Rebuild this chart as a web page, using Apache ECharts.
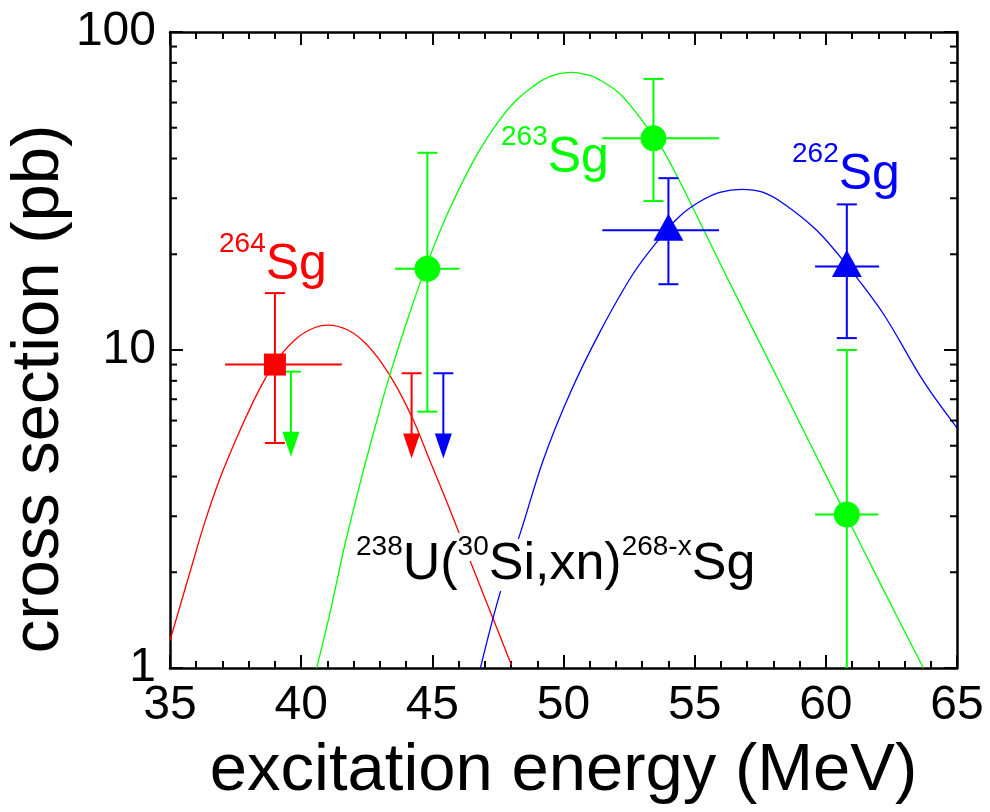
<!DOCTYPE html>
<html>
<head>
<meta charset="utf-8">
<script src="https://cdn.jsdelivr.net/npm/echarts@6.0.0/dist/echarts.min.js"></script>
<style>
html, body { margin: 0; padding: 0; background: #fff; }
#chart { width: 990px; height: 812px; }
</style>
</head>
<body>
<div id="chart"></div>
<script>
var FONT = '"Liberation Sans", Arial, sans-serif';
var RED = '#ff0000', GREEN = '#00ff00', BLUE = '#0000ff';

var xMin = 35, xMax = 65, yMin = 1, yMax = 100;
var yMinorTicks = [2, 3, 4, 5, 6, 7, 8, 9, 20, 30, 40, 50, 60, 70, 80, 90];

// fitted excitation functions [E, sigma]
var redCurve = [[35.0, 1.22], [35.76, 2.0], [36.33, 2.88], [36.91, 3.96], [37.54, 5.29],
    [38.11, 6.71], [38.62, 8.1], [39.13, 9.44], [39.89, 10.99], [40.53, 11.77], [41.04, 11.98],
    [41.74, 11.6], [42.37, 10.66], [43.0, 9.28], [43.64, 7.66], [44.28, 6.01], [44.91, 4.48],
    [45.55, 3.33], [46.18, 2.46], [46.94, 1.71], [48.02, 1.02]];
var greenCurve = [[40.59, 1.0], [41.1, 1.49], [41.67, 2.45], [42.32, 4.02], [42.85, 5.85],
    [43.38, 8.35], [44.14, 13.1], [44.91, 19.7], [45.67, 27.9], [46.69, 41.0], [47.58, 53.1],
    [48.21, 61.1], [48.85, 67.5], [49.49, 72.5], [50.31, 74.7], [51.0, 73.0], [51.39, 70.6],
    [52.03, 65.2], [52.54, 58.9], [53.17, 50.4], [53.81, 42.3], [54.44, 33.8], [54.95, 27.8],
    [56.22, 17.0], [58.25, 7.87], [59.52, 4.85], [60.8, 2.99], [62.26, 1.72], [63.72, 1.0]];
var blueCurve = [[46.82, 0.99], [47.58, 1.72], [48.35, 2.65], [49.23, 4.51], [50.25, 7.31],
    [51.39, 11.4], [52.66, 17.4], [53.68, 22.5], [54.44, 26.4], [55.2, 29.3], [55.96, 31.3],
    [56.79, 32.0], [57.56, 31.4], [58.38, 28.9], [59.65, 23.8], [60.8, 18.5], [62.19, 13.0],
    [63.72, 7.98], [65.0, 5.69]];

// measured points [E, sigma, Elow, Ehigh, sigmaLow, sigmaHigh]
var sg264 = [[39.0, 9.0, 37.1, 41.55, 5.1, 15.1]];
var sg263 = [[44.81, 18.0, 43.58, 46.04, 6.4, 41.7],
    [53.43, 46.3, 51.48, 55.93, 29.4, 71.2],
    [60.8, 3.04, 59.59, 62.0, 0.8, 10.0]];
var sg262 = [[54.0, 23.8, 51.48, 55.93, 16.1, 34.7],
    [60.8, 18.3, 59.59, 62.03, 10.9, 28.7]];

// upper limits [E, limit, arrow tip]
var sg264Limits = [[44.21, 8.45, 4.56]];
var sg263Limits = [[39.61, 8.55, 4.62]];
var sg262Limits = [[45.42, 8.45, 4.56]];

function errorBars(params, api) {
    var x = api.value(0), y = api.value(1);
    var c = api.coord([x, y]);
    var l = api.coord([api.value(2), y]);
    var r = api.coord([api.value(3), y]);
    var lo = api.coord([x, api.value(4)]);
    var hi = api.coord([x, api.value(5)]);
    var st = { stroke: api.visual('color'), lineWidth: 2 };
    return {
        type: 'group',
        children: [
            { type: 'line', shape: { x1: l[0], y1: c[1], x2: r[0], y2: c[1] }, style: st },
            { type: 'line', shape: { x1: c[0], y1: hi[1], x2: c[0], y2: lo[1] }, style: st },
            { type: 'line', shape: { x1: c[0] - 10, y1: hi[1], x2: c[0] + 10, y2: hi[1] }, style: st },
            { type: 'line', shape: { x1: c[0] - 10, y1: lo[1], x2: c[0] + 10, y2: lo[1] }, style: st }
        ]
    };
}

function limitArrow(params, api) {
    var top = api.coord([api.value(0), api.value(1)]);
    var tip = api.coord([api.value(0), api.value(2)]);
    var color = api.visual('color');
    var st = { stroke: color, lineWidth: 2 };
    return {
        type: 'group',
        children: [
            { type: 'line', shape: { x1: top[0] - 10, y1: top[1], x2: top[0] + 10, y2: top[1] }, style: st },
            { type: 'line', shape: { x1: top[0], y1: top[1], x2: tip[0], y2: tip[1] - 24 }, style: st },
            { type: 'polygon', shape: { points: [[tip[0] - 8.5, tip[1] - 25], [tip[0] + 8.5, tip[1] - 25], [tip[0], tip[1]]] },
              style: { fill: color } }
        ]
    };
}

function logMinorTicks(params, api) {
    var cs = params.coordSys;
    var y = api.coord([api.value(0), api.value(1)])[1];
    var st = { stroke: '#000', lineWidth: 2 };
    return {
        type: 'group',
        children: [
            { type: 'line', shape: { x1: cs.x, y1: y, x2: cs.x + 7, y2: y }, style: st },
            { type: 'line', shape: { x1: cs.x + cs.width, y1: y, x2: cs.x + cs.width - 7, y2: y }, style: st }
        ]
    };
}

function curve(data, color) {
    return {
        type: 'line', data: data, smooth: 0.35, showSymbol: false, z: 1,
        lineStyle: { color: color, width: 1.3 }, itemStyle: { color: color }
    };
}

function bars(data, color) {
    return { type: 'custom', data: data, renderItem: errorBars, clip: true, z: 2, itemStyle: { color: color } };
}

function limits(data, color) {
    return { type: 'custom', data: data, renderItem: limitArrow, z: 2, itemStyle: { color: color } };
}

function points(data, color, symbol, size, offset) {
    return {
        type: 'scatter', data: data.map(function (d) { return [d[0], d[1]]; }),
        symbol: symbol, symbolSize: size, symbolOffset: offset || [0, 0], z: 3,
        itemStyle: { color: color, opacity: 1 }
    };
}

function isoLabel(x, y, sup, main, color, mainSize, lineH, bg) {
    var mainStyle = { fontSize: mainSize, fontFamily: FONT, fill: color, lineHeight: lineH };
    var supStyle = { fontSize: 28, fontFamily: FONT, fill: color, lineHeight: 10, verticalAlign: 'top' };
    if (bg) {
        mainStyle.backgroundColor = '#fff';
        supStyle.backgroundColor = '#fff';
    }
    var text = '';
    for (var i = 0; i < sup.length; i++) {
        text += '{s|' + sup[i] + '}{m|' + main[i] + '}';
    }
    return {
        type: 'text', x: x, y: y, z: 10,
        style: {
            text: text, fill: color, align: 'left', verticalAlign: 'middle',
            textAlign: 'left', textVerticalAlign: 'middle',
            rich: { s: supStyle, m: mainStyle }
        }
    };
}

function frameAxis(pos, show) {
    return {
        type: 'value', min: xMin, max: xMax, interval: 5, position: pos,
        axisLine: { onZero: false, lineStyle: { color: '#000', width: 2.5 } },
        axisTick: { inside: true, length: 13, lineStyle: { color: '#000', width: 2 } },
        minorTick: { show: true, splitNumber: 5, length: 7, lineStyle: { color: '#000', width: 2 } },
        axisLabel: { show: show, fontSize: 48, fontFamily: FONT, color: '#000', margin: 14 },
        splitLine: { show: false }, minorSplitLine: { show: false }
    };
}

function logAxis(pos, show) {
    return {
        type: 'log', logBase: 10, min: yMin, max: yMax, position: pos,
        axisLine: { onZero: false, lineStyle: { color: '#000', width: 2.5 } },
        axisTick: { inside: true, length: 13, lineStyle: { color: '#000', width: 2 } },
        axisLabel: { show: show, fontSize: 48, fontFamily: FONT, color: '#000', margin: 14 },
        splitLine: { show: false }
    };
}

var option = {
    backgroundColor: '#fff',
    animation: false,
    grid: { left: 170, right: 33, top: 32, bottom: 144, containLabel: false, outerBoundsMode: 'none' },
    xAxis: [frameAxis('bottom', true), frameAxis('top', false)],
    yAxis: [logAxis('left', true), logAxis('right', false)],
    series: [
        curve(redCurve, RED),
        curve(greenCurve, GREEN),
        curve(blueCurve, BLUE),
        {
            type: 'custom', renderItem: logMinorTicks, z: 4,
            data: yMinorTicks.map(function (v) { return [xMin, v]; })
        },
        bars(sg264, RED),
        bars(sg263, GREEN),
        bars(sg262, BLUE),
        limits(sg264Limits, RED),
        limits(sg263Limits, GREEN),
        limits(sg262Limits, BLUE),
        points(sg264, RED, 'rect', 22),
        points(sg263, GREEN, 'circle', 26),
        points(sg262, BLUE, 'triangle', [30, 27], [0, -3])
    ],
    graphic: [
        {
            type: 'text', x: 40, y: 389, rotation: Math.PI / 2, z: 10,
            style: { text: 'cross section (pb)', fontSize: 67, fontFamily: FONT, fill: '#000',
                align: 'center', verticalAlign: 'middle', textAlign: 'center', textVerticalAlign: 'middle' }
        },
        {
            type: 'text', x: 563.5, y: 772, z: 10,
            style: { text: 'excitation energy (MeV)', fontSize: 67, fontFamily: FONT, fill: '#000',
                align: 'center', verticalAlign: 'middle', textAlign: 'center', textVerticalAlign: 'middle' }
        },
        isoLabel(219, 265, ['264'], ['Sg'], RED, 50, 70),
        isoLabel(501, 158, ['263'], ['Sg'], GREEN, 50, 70),
        isoLabel(792, 175, ['262'], ['Sg'], BLUE, 50, 70),
        isoLabel(356, 565, ['238', '30', '268-x'], ['U(', 'Si,xn)', 'Sg'], '#000', 52, 64, true)
    ]
};

var myChart = echarts.init(document.getElementById('chart'));
myChart.setOption(option);
</script>
</body>
</html>
